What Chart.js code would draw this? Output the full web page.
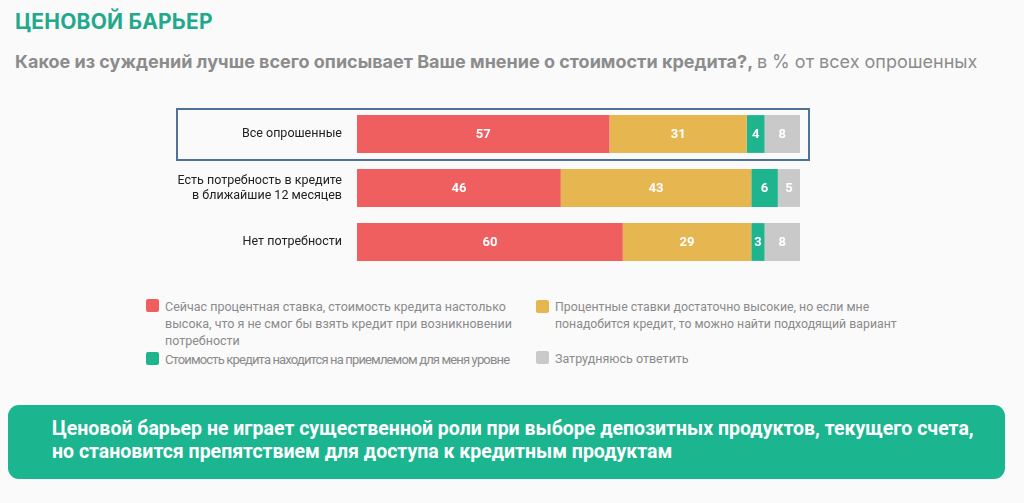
<!DOCTYPE html>
<html lang="ru">
<head>
<meta charset="utf-8">
<script src="https://cdn.jsdelivr.net/npm/chart.js@4"></script>
<style>
  body { margin: 0; width: 1024px; height: 503px; background: #fafafa; font-family: Roboto, sans-serif; position: relative; overflow: hidden; }
  #title { position: absolute; left: 15px; top: 9px; font: 700 21px Inter, sans-serif; color: #22a98b; letter-spacing: 0.2px; }
  #subtitle { position: absolute; left: 15px; top: 51px; font: 700 18px Inter, sans-serif; color: #8c8c8c; white-space: nowrap; }
  #subtitle span { font-weight: 400; }
  #chart { position: absolute; left: 160px; top: 100px; }
  .leg { position: absolute; font-family: Roboto, sans-serif; color: #8a8a8a; line-height: 17px; white-space: nowrap; }
  .leg i { position: absolute; left: -19px; top: 1px; width: 13px; height: 13px; border-radius: 2px; }
  #note { position: absolute; left: 8px; top: 405px; width: 997px; height: 74px; border-radius: 11px; background: #1bb58f; }
  #note p { margin: 0; position: absolute; left: 44px; top: 12px; font: 700 19.5px Roboto, sans-serif; color: #fff; line-height: 23px; white-space: nowrap; }
</style>
</head>
<body>
<div id="title">ЦЕНОВОЙ БАРЬЕР</div>
<div id="subtitle">Какое из суждений лучше всего описывает Ваше мнение о стоимости кредита?, <span>в % от всех опрошенных</span></div>
<canvas id="chart" width="655" height="176"></canvas>
<div id="legend"></div>
<div id="note"><p>Ценовой барьер не играет существенной роли при выборе депозитных продуктов, текущего счета,<br>но становится препятствием для доступа к кредитным продуктам</p></div>
<script>
// Data
const groups = [["Все опрошенные"], ["Есть потребность в кредите", "в ближайшие 12 месяцев"], ["Нет потребности"]];
const seriesNames = [
  "Сейчас процентная ставка, стоимость кредита настолько высока, что я не смог бы взять кредит при возникновении потребности",
  "Процентные ставки достаточно высокие, но если мне понадобится кредит, то можно найти подходящий вариант",
  "Стоимость кредита находится на приемлемом для меня уровне",
  "Затрудняюсь ответить"
];
const tooHigh = [57, 46, 60];
const highButOk = [31, 43, 29];
const acceptable = [4, 6, 3];
const noAnswer = [8, 5, 8];
const colors = ["#ef5f60", "#e6b651", "#1db48e", "#c9c9c9"];

const values = [tooHigh, highButOk, acceptable, noAnswer];

// Legend (HTML, long labels broken by hand like the original)
const legendPos = [
  { left: 165, top: 298, size: 12.5, ls: 0, html: "Сейчас процентная ставка, стоимость кредита настолько<br>высока, что я не смог бы взять кредит при возникновении<br>потребности" },
  { left: 555, top: 299, size: 12.3, ls: 0, html: "Процентные ставки достаточно высокие, но если мне<br>понадобится кредит, то можно найти подходящий вариант" },
  { left: 165, top: 351, size: 13, ls: -0.85, html: seriesNames[2] },
  { left: 555, top: 350, size: 12.5, ls: 0, html: seriesNames[3] }
];
const legendEl = document.getElementById("legend");
legendPos.forEach((p, i) => {
  const d = document.createElement("div");
  d.className = "leg";
  d.style.left = p.left + "px";
  d.style.top = p.top + "px";
  d.style.fontSize = p.size + "px";
  d.innerHTML = "<i style='background:" + colors[i] + "'></i><span style='letter-spacing:" + p.ls + "px'>" + p.html + "</span>";
  legendEl.appendChild(d);
});

// Value labels inside segments
const valueLabels = {
  id: "valueLabels",
  afterDatasetsDraw(chart) {
    const ctx = chart.ctx;
    ctx.save();
    ctx.font = "700 13px Roboto, sans-serif";
    ctx.fillStyle = "#ffffff";
    ctx.textAlign = "center";
    ctx.textBaseline = "middle";
    chart.data.datasets.forEach((ds, i) => {
      chart.getDatasetMeta(i).data.forEach((bar, j) => {
        ctx.fillText(ds.data[j], (bar.x + bar.base) / 2, bar.y + 1);
      });
    });
    ctx.restore();
  }
};

// Frame around the "all respondents" row
const highlight = {
  id: "highlight",
  afterDraw(chart) {
    const ctx = chart.ctx;
    const y = chart.scales.y.getPixelForValue(0);
    ctx.save();
    ctx.strokeStyle = "#4f7198";
    ctx.lineWidth = 2;
    ctx.strokeRect(17, y - 25, chart.chartArea.right + 9 - 17, 51);
    ctx.restore();
  }
};

new Chart(document.getElementById("chart"), {
  type: "bar",
  data: {
    labels: groups,
    datasets: values.map((v, i) => ({
      label: seriesNames[i],
      data: v,
      backgroundColor: colors[i],
      borderWidth: 0,
      categoryPercentage: 1,
      barPercentage: 0.7
    }))
  },
  options: {
    indexAxis: "y",
    responsive: false,
    animation: false,
    layout: { padding: { top: 7, bottom: 7, right: 15 } },
    plugins: { legend: { display: false }, tooltip: { enabled: false } },
    scales: {
      x: { stacked: true, min: 0, max: 100, display: false },
      y: {
        stacked: true,
        grid: { display: false, drawTicks: false },
        border: { display: false },
        afterFit(scale) {
          scale.width = 197;
          scale.paddingTop = 0;
          scale.paddingBottom = 0;
        },
        ticks: { color: "#222222", padding: 15, font: { family: "Roboto", size: 12.5 } }
      }
    }
  },
  plugins: [valueLabels, highlight]
});
</script>
</body>
</html>
